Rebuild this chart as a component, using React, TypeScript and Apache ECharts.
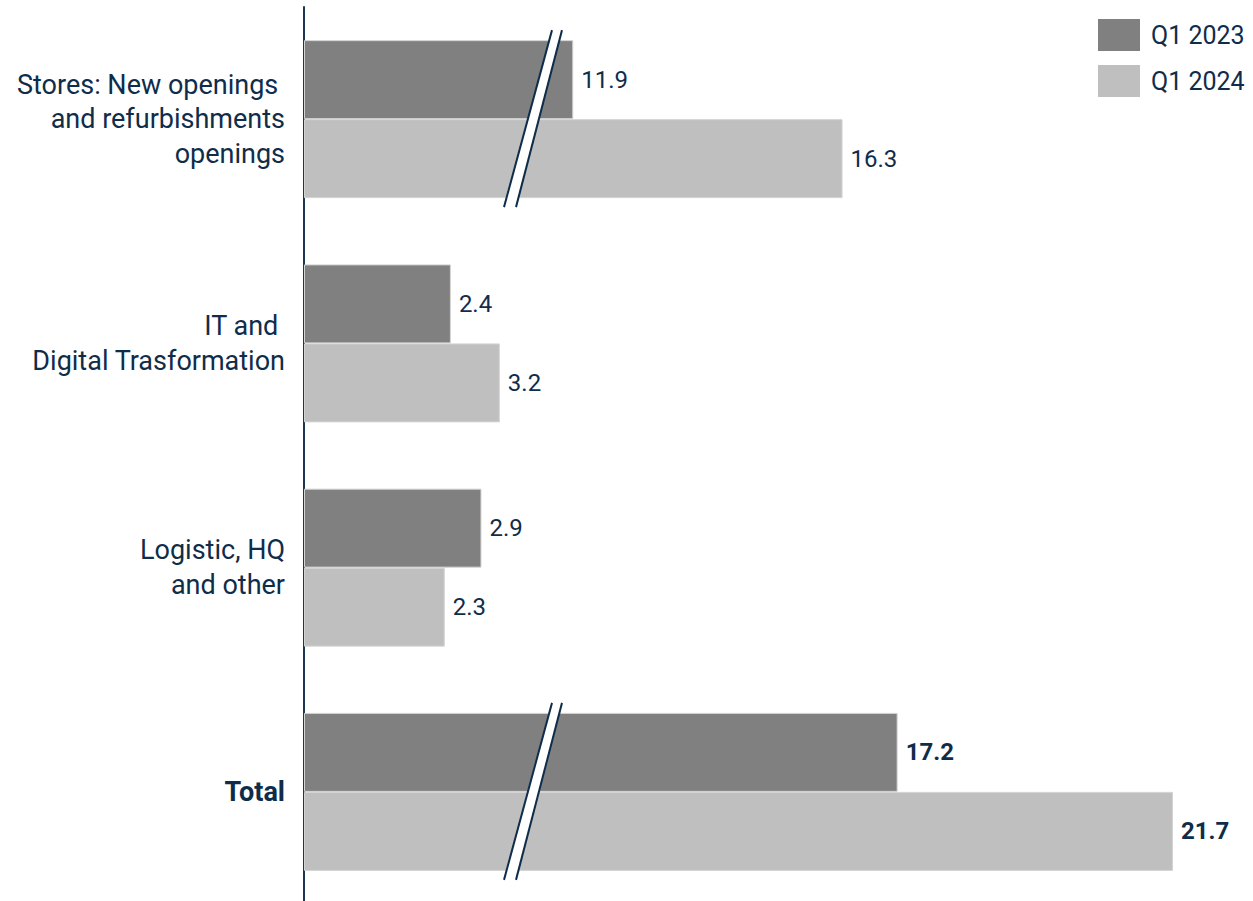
import React, { useEffect, useRef } from 'react';
import * as echarts from 'echarts';

const categories = [
  'Stores: New openings \nand refurbishments\nopenings',
  'IT and \nDigital Trasformation',
  'Logistic, HQ\nand other',
  'Total',
];
const seriesNames = ['Q1 2023', 'Q1 2024'];
const q1_2023 = [11.9, 2.4, 2.9, 17.2];
const q1_2024 = [16.3, 3.2, 2.3, 21.7];
const boldCategories = ['Total'];
const axisBreakStart = 3.75;
const axisBreakEnd = 11.25;
const brokenCategories = ['Stores: New openings \nand refurbishments\nopenings', 'Total'];

const NAVY = '#0f2d4a';
const FONT = 'Roboto';
const DARK = '#808080';
const LIGHT = '#bfbfbf';

function barData(values: number[]) {
  return values.map((v, i) =>
    boldCategories.includes(categories[i])
      ? { value: v, label: { fontWeight: 'bold' } }
      : { value: v }
  );
}

export default function App() {
  const ref = useRef<HTMLDivElement>(null);
  useEffect(() => {
    if (!ref.current) return;
    const chart = echarts.init(ref.current, undefined, { renderer: 'svg' });
    const barLabel = {
      show: true,
      position: 'right',
      distance: 8,
      color: NAVY,
      fontSize: 24,
      fontFamily: FONT,
    };
    chart.setOption({
      animation: false,
      backgroundColor: '#ffffff',
      textStyle: { fontFamily: FONT },
      grid: { left: 304, top: 7, width: 918, height: 897, containLabel: false },
      legend: {
        data: seriesNames,
        orient: 'vertical',
        left: 1098,
        top: 19,
        padding: 0,
        itemWidth: 42,
        itemHeight: 32,
        itemGap: 14,
        icon: 'rect',
        selectedMode: false,
        itemStyle: { borderWidth: 0 },
        textStyle: { fontSize: 25, color: NAVY, fontFamily: FONT, padding: [0, 0, 0, 6] },
      },
      xAxis: {
        type: 'value',
        min: 0,
        max: 22.5,
        axisLine: { show: false },
        axisTick: { show: false },
        axisLabel: { show: false },
        splitLine: { show: false },
        breaks: [{ start: axisBreakStart, end: axisBreakEnd, gap: 0 }],
        breakArea: { show: false },
      },
      yAxis: {
        type: 'category',
        inverse: true,
        data: categories.map((c) =>
          boldCategories.includes(c) ? { value: c, textStyle: { fontWeight: 'bold' } } : c
        ),
        axisTick: { show: false },
        axisLine: { show: true, lineStyle: { color: '#1a3650', width: 2 } },
        axisLabel: {
          fontSize: 27,
          lineHeight: 34.5,
          color: NAVY,
          fontFamily: FONT,
          margin: 19,
          padding: [7, 0, 0, 0],
        },
        splitLine: { show: false },
      },
      series: [
        {
          name: seriesNames[0],
          type: 'bar',
          data: barData(q1_2023),
          barWidth: 79,
          barGap: '0%',
          itemStyle: { color: DARK, borderColor: '#d4d4d4', borderWidth: 1 },
          label: barLabel,
        },
        {
          name: seriesNames[1],
          type: 'bar',
          data: barData(q1_2024),
          barWidth: 79,
          barGap: '0%',
          itemStyle: { color: LIGHT, borderColor: '#d4d4d4', borderWidth: 1 },
          label: barLabel,
        },
        {
          type: 'custom',
          name: 'axis-break-marks',
          silent: true,
          z: 10,
          clip: false,
          encode: { x: 0, y: 1 },
          data: brokenCategories.map((c) => [axisBreakStart, c]),
          renderItem: (_params: any, api: any) => {
            const p = api.coord([api.value(0), api.value(1)]);
            const cx = p[0];
            const cy = p[1];
            const top = cy - 89;
            const bot = cy + 88;
            const tl = cx + 18.5;
            const tr = cx + 28.5;
            const bl = cx - 29.5;
            const br = cx - 17.5;
            return {
              type: 'group',
              children: [
                {
                  type: 'polygon',
                  shape: { points: [[tl, top], [tr, top], [br, bot], [bl, bot]] },
                  style: { fill: '#ffffff' },
                },
                {
                  type: 'line',
                  shape: { x1: tl, y1: top, x2: bl, y2: bot },
                  style: { stroke: NAVY, lineWidth: 2 },
                },
                {
                  type: 'line',
                  shape: { x1: tr, y1: top, x2: br, y2: bot },
                  style: { stroke: NAVY, lineWidth: 2 },
                },
              ],
            };
          },
        },
      ],
    });
    return () => chart.dispose();
  }, []);
  return (
    <div
      ref={ref}
      style={{ position: 'fixed', left: 0, top: 0, width: 1253, height: 910, background: '#fff' }}
    />
  );
}
